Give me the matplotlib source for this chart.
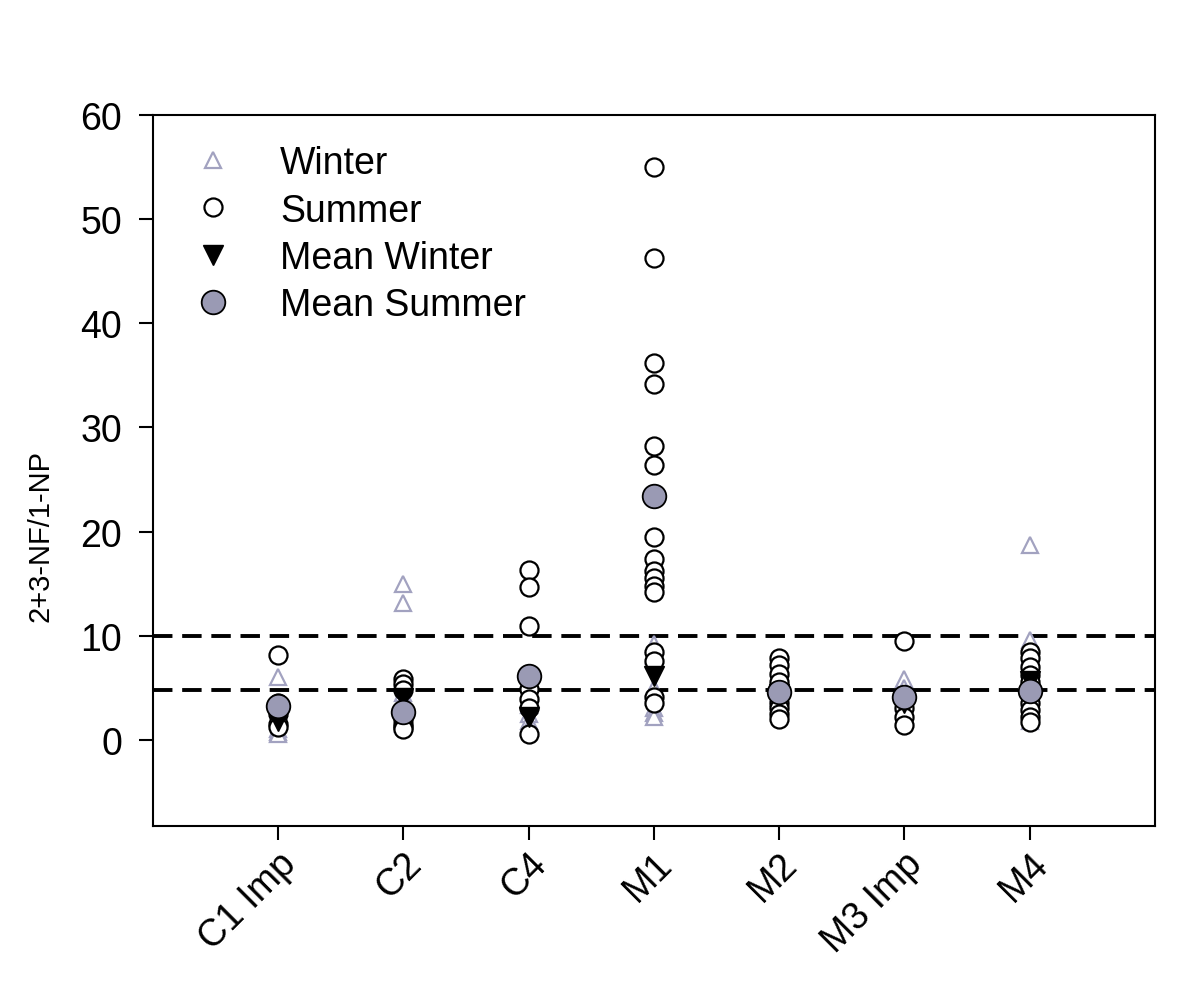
import matplotlib.pyplot as plt
import numpy as np

plt.rcParams['font.family'] = ['Liberation Sans', 'DejaVu Sans']

sites = ["C1 Imp", "C2", "C4", "M1", "M2", "M3 Imp", "M4"]

winter = [
    [6.0, 1.0, 0.7, 0.5],
    [15.0, 13.1, 4.5, 3.0, 2.0, 1.5],
    [3.3, 2.5, 1.8, 1.2],
    [17.1, 9.2, 8.0, 5.0, 3.0, 2.6, 2.2],
    [4.5, 4.0],
    [5.8, 5.0, 3.5],
    [18.7, 9.6, 8.0, 6.0, 4.0, 1.8],
]
summer = [
    [8.1, 3.5, 2.5, 1.5, 1.2],
    [5.8, 5.3, 4.8, 2.0, 1.5, 1.2, 1.0],
    [16.3, 14.7, 10.9, 4.9, 3.9, 3.0, 0.5],
    [55.0, 46.3, 36.2, 34.2, 28.2, 26.4, 19.5, 17.4, 16.2, 15.5, 14.8, 14.2,
     8.4, 7.6, 4.1, 3.5],
    [7.8, 7.2, 6.3, 5.5, 4.2, 3.5, 3.0, 2.5, 2.0],
    [9.5, 3.0, 2.2, 1.4],
    [8.4, 7.8, 7.0, 6.2, 5.5, 3.5, 2.8, 2.2, 1.7],
]
mean_winter = [1.8, 4.0, 2.2, 6.1, 4.4, 3.5, 5.6]
mean_summer = [3.2, 2.7, 6.1, 23.4, 4.6, 4.1, 4.7]
thresholds = [10.0, 4.8]

lav = "#9a9ab4"
tri = "#a2a2c0"
pos = np.arange(1, len(sites) + 1)

fig = plt.figure(figsize=(12.03, 10.03), dpi=100)
ax = fig.add_axes([0.127, 0.1755, 0.833, 0.7085])

for y in thresholds:
    ax.axhline(y, color="black", lw=2.8, ls=(0, (5, 2.5)), zorder=1)

for i, p in enumerate(pos):
    ax.plot([p] * len(winter[i]), winter[i], ls="none", marker="^", ms=11,
            mfc="white", mec=tri, mew=1.6, zorder=3,
            label="Winter" if i == 0 else None)
for i, p in enumerate(pos):
    ax.plot([p] * len(summer[i]), summer[i], ls="none", marker="o", ms=13,
            mfc="white", mec="black", mew=1.6, zorder=4,
            label="Summer" if i == 0 else None)

ax.plot(pos, mean_winter, ls="none", marker="v", ms=15, mfc="black",
        mec="black", zorder=5, label="Mean Winter")
ax.plot(pos, mean_summer, ls="none", marker="o", ms=17, mfc=lav,
        mec="black", mew=1.3, zorder=6, label="Mean Summer")

ax.set_xlim(0, 8)
ax.set_ylim(-8.3, 60)
ax.set_yticks(np.arange(0, 61, 10))
ax.set_xticks(pos)
ax.set_xticklabels(sites, rotation=45, ha="right", rotation_mode="anchor")
ax.tick_params(axis="both", direction="out", length=10, width=1.5,
               labelsize=27)
ax.tick_params(axis="x", pad=4)
ax.tick_params(axis="y", pad=12)
for s in ax.spines.values():
    s.set_linewidth(1.5)
ax.set_ylabel("2+3-NF/1-NP", fontsize=21)
ax.yaxis.set_label_coords(-0.098, 0.41)

ax.legend(loc="upper left", frameon=False, fontsize=27, handletextpad=1.3,
          labelspacing=0.3, borderaxespad=0.4, handlelength=1.0,
          bbox_to_anchor=(0.011, 1.0))

fig.savefig("out.png", dpi=100)
